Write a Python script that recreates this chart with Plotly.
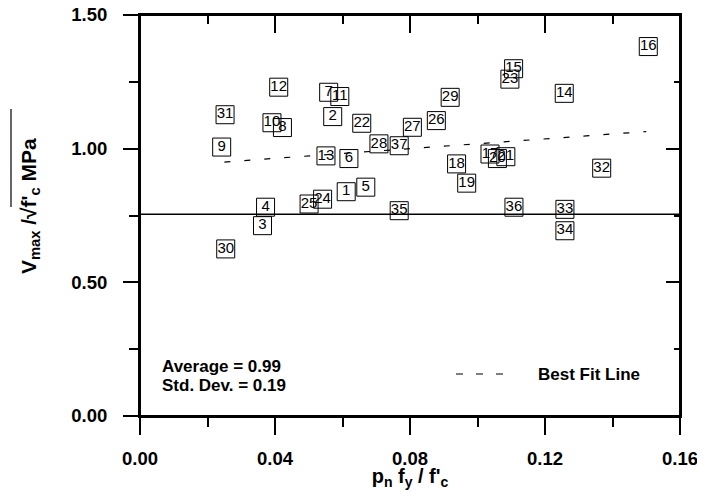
import plotly.graph_objects as go

# ---------------- data ----------------
specimen_ids = [str(i) for i in range(1, 38)]
x_vals = [0.0611, 0.0571, 0.0363, 0.0372, 0.0669, 0.0619, 0.0559, 0.0422, 0.0242, 0.0391,
          0.0592, 0.0411, 0.0551, 0.1257, 0.1107, 0.1506, 0.1037, 0.0938, 0.0968, 0.1059,
          0.1084, 0.0657, 0.1096, 0.0541, 0.0501, 0.0878, 0.0807, 0.0708, 0.0919, 0.0254,
          0.0252, 0.1368, 0.1259, 0.1259, 0.0768, 0.1108, 0.0768]
y_vals = [0.839, 1.120, 0.712, 0.781, 0.856, 0.963, 1.211, 1.079, 1.006, 1.097,
          1.195, 1.230, 0.973, 1.207, 1.299, 1.382, 0.980, 0.943, 0.871, 0.963,
          0.970, 1.095, 1.260, 0.811, 0.793, 1.105, 1.080, 1.018, 1.192, 0.625,
          1.127, 0.927, 0.773, 0.693, 0.768, 0.781, 1.011]

fit_x = [0.025, 0.150]
fit_y = [0.950, 1.064]

ref_x = [0.0, 0.16]
ref_y = [0.755, 0.755]

x_ticks = [0.0, 0.04, 0.08, 0.12, 0.16]
x_ticklabels = ["0.00", "0.04", "0.08", "0.12", "0.16"]
y_ticks = [0.0, 0.5, 1.0, 1.5]
y_ticklabels = ["0.00", "0.50", "1.00", "1.50"]

stats_lines = ["Average = 0.99", "Std. Dev. = 0.19"]
legend_label = "Best Fit Line"

# ---------------- figure ----------------
OFF = 8                      # page body margin of the browser
W, H = 705 - 2 * OFF, 498 - 2 * OFF
PX0, PX1, PY0, PY1 = 140, 680, 15, 416   # plot area in window pixels
L, T = PX0 - OFF, PY0 - OFF
R, B = W - (PX1 - OFF), H - (PY1 - OFF)
FONT = "Liberation Sans, Arial, sans-serif"

def px_to_paper_x(px):
    return (px - PX0) / (PX1 - PX0)

def px_to_paper_y(py):
    return (PY1 - py) / (PY1 - PY0)

fig = go.Figure()

fig.add_trace(go.Scatter(
    x=ref_x, y=ref_y, mode="lines",
    line=dict(color="black", width=1.5), hoverinfo="skip", showlegend=False))

fig.add_trace(go.Scatter(
    x=fit_x, y=fit_y, mode="lines",
    line=dict(color="black", width=1.2, dash="6px,14px"),
    name=legend_label, showlegend=False))

fig.add_trace(go.Scatter(
    x=x_vals, y=y_vals, mode="markers+text",
    text=specimen_ids, textposition="middle center",
    textfont=dict(family=FONT, size=15, color="black"),
    marker=dict(symbol="square-open", size=18, color="black", line=dict(width=1, color="black")),
    showlegend=False, cliponaxis=False))

# dummy trace to create the mirrored (inside-tick) axes
fig.add_trace(go.Scatter(x=[None], y=[None], xaxis="x2", yaxis="y2",
                         showlegend=False, hoverinfo="skip"))

tickfont = dict(family=FONT, size=18.5, color="black", weight="bold")

fig.update_layout(
    width=W, height=H,
    margin=dict(l=L, r=R, t=T, b=B, autoexpand=False),
    paper_bgcolor="white", plot_bgcolor="white",
    showlegend=False,
    xaxis=dict(
        range=[0, 0.16], tickvals=x_ticks, ticktext=x_ticklabels,
        showline=True, linecolor="black", linewidth=2,
        ticks="outside", ticklen=17, tickwidth=1.5, tickcolor="black",
        minor=dict(ticks="outside", ticklen=9, tickwidth=1.5, tickcolor="black",
                   tick0=0, dtick=0.02),
        showgrid=False, zeroline=False, tickfont=tickfont,
        ticklabelstandoff=8, automargin=False, ticklabeloverflow="allow",
        title=dict(text="p<sub>n</sub> f<sub>y</sub> / f'<sub>c</sub>",
                   font=dict(family=FONT, size=20, color="black", weight="bold"),
                   standoff=2),
    ),
    yaxis=dict(
        range=[0, 1.5], tickvals=y_ticks, ticktext=y_ticklabels,
        showline=True, linecolor="black", linewidth=2,
        ticks="outside", ticklen=15, tickwidth=1.5, tickcolor="black",
        minor=dict(ticks="outside", ticklen=9, tickwidth=1.5, tickcolor="black",
                   tick0=0, dtick=0.25),
        showgrid=False, zeroline=False, tickfont=tickfont,
        ticklabelstandoff=12, automargin=False, ticklabeloverflow="allow",
    ),
    xaxis2=dict(
        range=[0, 0.16], overlaying="x", side="top", anchor="y2",
        tickvals=x_ticks, showticklabels=False,
        showline=True, linecolor="black", linewidth=2,
        ticks="inside", ticklen=18, tickwidth=1.5, tickcolor="black",
        minor=dict(ticks="inside", ticklen=9, tickwidth=1.5, tickcolor="black",
                   tick0=0, dtick=0.02),
        showgrid=False, zeroline=False, automargin=False,
    ),
    yaxis2=dict(
        range=[0, 1.5], overlaying="y", side="right", anchor="x2",
        tickvals=y_ticks, showticklabels=False,
        showline=True, linecolor="black", linewidth=2,
        ticks="inside", ticklen=14, tickwidth=1.5, tickcolor="black",
        minor=dict(ticks="inside", ticklen=6, tickwidth=1.5, tickcolor="black",
                   tick0=0, dtick=0.25),
        showgrid=False, zeroline=False, automargin=False,
    ),
)

# plot frame
fig.add_shape(type="rect", xref="paper", yref="paper", x0=0, x1=1, y0=0, y1=1,
              line=dict(color="black", width=2), layer="above")

# y-axis title (rotated) with a radical overline
fig.add_annotation(
    text="V<sub>max</sub> /\u221Af'<sub>c</sub> MPa",
    textangle=-90, xref="paper", yref="paper",
    x=px_to_paper_x(30), y=px_to_paper_y(206),
    xanchor="center", yanchor="middle", showarrow=False,
    font=dict(family=FONT, size=21, color="black", weight="bold"))
fig.add_shape(type="line", xref="paper", yref="paper",
              x0=px_to_paper_x(11), x1=px_to_paper_x(11),
              y0=px_to_paper_y(207), y1=px_to_paper_y(109),
              line=dict(color="black", width=1.2))

# statistics text
stat_font = dict(family=FONT, size=17, color="black", weight="bold")
for line_text, py in zip(stats_lines, [366, 385]):
    fig.add_annotation(text=line_text, xref="paper", yref="paper",
                       x=px_to_paper_x(160), y=px_to_paper_y(py),
                       xanchor="left", yanchor="middle", showarrow=False, font=stat_font)

# manual legend
fig.add_shape(type="line", xref="paper", yref="paper",
              x0=px_to_paper_x(456), x1=px_to_paper_x(506),
              y0=px_to_paper_y(374), y1=px_to_paper_y(374),
              line=dict(color="black", width=1.2, dash="7px,13px"))
fig.add_annotation(text=legend_label, xref="paper", yref="paper",
                   x=px_to_paper_x(536), y=px_to_paper_y(374),
                   xanchor="left", yanchor="middle", showarrow=False, font=stat_font)

fig.write_html("out.html")
